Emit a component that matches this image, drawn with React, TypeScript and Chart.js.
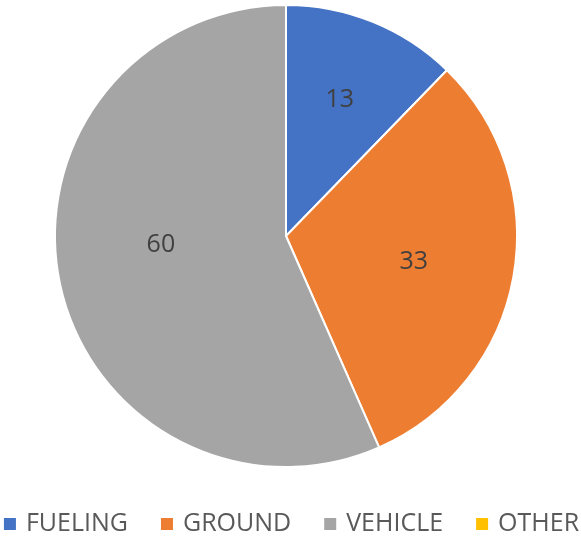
import React, { useEffect, useRef } from "react";
import { Chart, registerables } from "chart.js";

Chart.register(...registerables);

const categories = ["FUELING", "GROUND", "VEHICLE", "OTHER"];
const values = [13, 33, 60, 0];
const colors = ["#4472C4", "#ED7D31", "#A5A5A5", "#FFC000"];

// small pixel nudges for the inside labels (Excel "best fit" placement)
const labelNudge: [number, number][] = [
  [3.5, -12],
  [-4, 2],
  [6, -19],
  [0, 0],
];

const FONT = "'Open Sans', 'Liberation Sans', sans-serif";

const labelPlugin = {
  id: "sliceLabels",
  afterDatasetsDraw(chart: any) {
    const { ctx } = chart;
    const meta = chart.getDatasetMeta(0);
    const ds = chart.data.datasets[0];
    ctx.save();
    ctx.fillStyle = "#404040";
    ctx.font = `25px ${FONT}`;
    ctx.textAlign = "center";
    ctx.textBaseline = "middle";
    meta.data.forEach((arc: any, i: number) => {
      const v = ds.data[i];
      if (!v) return;
      const { x, y, startAngle, endAngle, outerRadius } = arc.getProps(
        ["x", "y", "startAngle", "endAngle", "outerRadius"],
        true
      );
      const mid = (startAngle + endAngle) / 2;
      const r = outerRadius * 0.58;
      const [nx, ny] = labelNudge[i];
      ctx.fillText(String(v), x + Math.cos(mid) * r + nx, y + Math.sin(mid) * r + ny);
    });
    ctx.restore();
  },
};

const legendPlugin = {
  id: "customLegend",
  afterDraw(chart: any) {
    const { ctx, width } = chart;
    const labels: string[] = chart.data.labels;
    const bg: string[] = chart.data.datasets[0].backgroundColor;
    const box = 12;
    const gapText = 10;
    const gapItem = 33;
    ctx.save();
    ctx.font = `25px ${FONT}`;
    ctx.textBaseline = "middle";
    ctx.textAlign = "left";
    const widths = labels.map((l) => box + gapText + ctx.measureText(l).width);
    const total = widths.reduce((a, b) => a + b, 0) + gapItem * (labels.length - 1);
    let x = (width - total) / 2 + 1;
    const cy = 524;
    labels.forEach((l, i) => {
      ctx.fillStyle = bg[i];
      ctx.fillRect(x, cy - box / 2, box, box);
      ctx.fillStyle = "#595959";
      ctx.fillText(l, x + box + gapText, cy);
      x += widths[i] + gapItem;
    });
    ctx.restore();
  },
};

export default function App() {
  const ref = useRef<HTMLCanvasElement | null>(null);
  useEffect(() => {
    if (!ref.current) return;
    const chart = new Chart(ref.current, {
      type: "pie",
      data: {
        labels: categories,
        datasets: [
          {
            data: values,
            backgroundColor: colors,
            borderColor: "#FFFFFF",
            borderWidth: 2,
          },
        ],
      },
      options: {
        animation: false,
        responsive: false,
        layout: { padding: { top: 4, left: 0, right: 9, bottom: 68 } },
        plugins: {
          tooltip: { enabled: false },
          legend: { display: false },
        },
      },
      plugins: [labelPlugin, legendPlugin],
    });
    return () => chart.destroy();
  }, []);
  return (
    <div style={{ position: "fixed", left: 0, top: 0, width: 581, height: 536, background: "#fff" }}>
      <canvas ref={ref} width={581} height={536} style={{ width: 581, height: 536 }} />
    </div>
  );
}
